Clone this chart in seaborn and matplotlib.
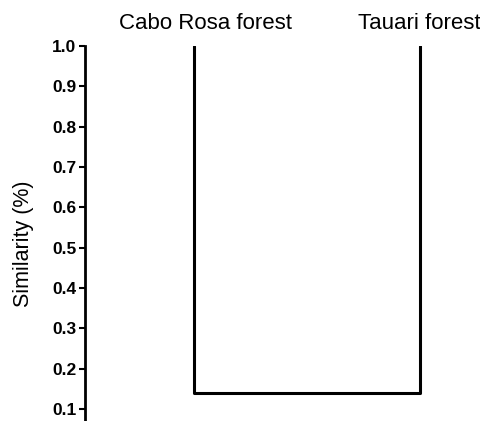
import matplotlib
matplotlib.use("Agg")
import matplotlib.pyplot as plt
import matplotlib.transforms as mtransforms
import seaborn as sns
import pandas as pd

# Two-site cluster dendrogram (similarity scale)
sites = ["Cabo Rosa forest", "Tauari forest"]
leaf_height = 1.0          # leaves sit at full similarity
join_similarity = 0.14     # similarity at which the two forests merge
y_ticks = [0.1, 0.2, 0.3, 0.4, 0.5, 0.6, 0.7, 0.8, 0.9, 1.0]

sns.set_theme(style="white")
plt.rcParams["font.family"] = ["Liberation Sans", "DejaVu Sans"]
plt.rcParams.update({"text.color": "black", "axes.labelcolor": "black",
                     "xtick.color": "black", "ytick.color": "black"})

# U-shaped link: down from leaf 0, across, up to leaf 1
link = pd.DataFrame({
    "pos": [0, 0, 1, 1],
    "sim": [leaf_height, join_similarity, join_similarity, leaf_height],
    "order": [0, 1, 2, 3],
})

fig = plt.figure(figsize=(4.81, 4.21), dpi=100)
left_px = 85
ax = fig.add_axes([left_px / 481, 0.0, (481 - left_px) / 481, 1 - 46 / 421])

sns.lineplot(data=link, x="pos", y="sim", sort=False, estimator=None,
             color="black", linewidth=2.2, ax=ax)

# place the two leaves at their columns
span = (481 - left_px)
f0 = (194.5 - left_px) / span
f1 = (419.5 - left_px) / span
width = 1 / (f1 - f0)
ax.set_xlim(-f0 * width, -f0 * width + width)
ax.set_ylim(0.0702, 1.0)

ax.set_yticks(y_ticks)
ax.set_yticklabels([f"{v:.1f}" for v in y_ticks], fontsize=12.5, fontweight="bold")
ax.tick_params(axis="y", direction="out", length=4.5, width=1.5, pad=1.8,
               color="black", labelcolor="black", left=True)
ax.set_ylabel("Similarity (%)", fontsize=15.5, color="black")
ax.yaxis.set_label_coords(-0.13, 0.472)

ax.xaxis.tick_top()
ax.set_xticks([0, 1])
ax.set_xticklabels(sites, fontsize=16, color="black")
ax.tick_params(axis="x", length=0, pad=8.5)
ax.set_xlabel("")

# nudge the first leaf label a little to the right
first = ax.get_xticklabels()[0]
first.set_transform(first.get_transform()
                    + mtransforms.ScaledTranslation(11 / 100, 0, fig.dpi_scale_trans))

for side in ["top", "right", "bottom"]:
    ax.spines[side].set_visible(False)
ax.spines["left"].set_color("black")
ax.spines["left"].set_linewidth(2)

fig.savefig("out.png", dpi=100)
